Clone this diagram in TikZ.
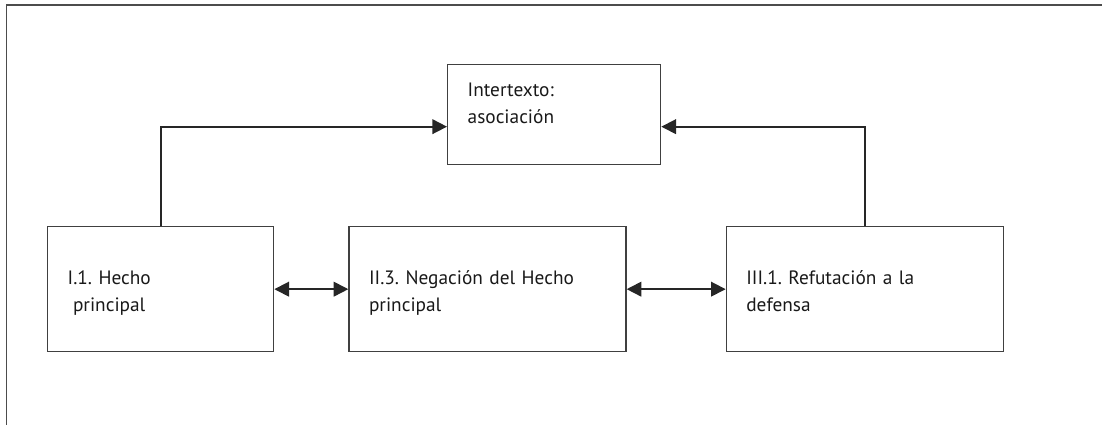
\documentclass[tikz,border=0pt]{standalone}
\usepackage{fontspec}
\setmainfont{PT Sans}
\frenchspacing
\usetikzlibrary{positioning}
\usetikzlibrary{arrows.meta}
\tikzset{%
	% Specifications for style of boxes and links:
	base/.style = {rectangle, draw=black!75, line width=1pt, align=left,
		inner xsep=15pt, inner ysep=0pt, text height=12pt,
		font=\fontsize{14.5pt}{20pt}\selectfont, text=black!90},
	lowerBox/.style = {base, minimum height=93.75pt, text depth=18.75pt},
	topBox/.style = {base, minimum height=75pt, text depth=39pt},
	link/.style = {draw=black!85, line width=1.3pt, -{Triangle[length=11pt, width=11pt]}},
	bothLink/.style = {link, {Triangle[length=11pt, width=11pt]}-{Triangle[length=11pt, width=11pt]}},
	frame/.style = {draw=black!70, line width=1.4pt}
}
\begin{document}
\begin{tikzpicture}
	\useasboundingbox (0,0) rectangle (826.5pt,-318.75pt);
	\coordinate (frameNE) at (826.5pt,-3.6pt);
	\coordinate (frameNW) at (4.9pt,-3.6pt);
	\coordinate (frameSW) at (4.9pt,-318.75pt);
	\draw[frame] (frameNE) -- (frameNW) -- (frameSW);
	\node (hecho) [lowerBox, anchor=north west, minimum width=169.5pt, text width=139.5pt] at (35.25pt,-169.5pt) {I.1. Hecho\\\hspace{4pt}principal};
	\node (negacion) [lowerBox, right=55.5pt of hecho, minimum width=207.75pt, text width=177.75pt] {II.3. Negación del Hecho\\principal};
	\node (refutacion) [lowerBox, right=74.25pt of negacion, minimum width=207.75pt, text width=177.75pt] {III.1. Refutación a la\\defensa};
	\node (intertexto) [topBox, anchor=north west, minimum width=159.75pt, text width=129.75pt] at (335.25pt,-48pt) {Intertexto:\\asociación};
	\draw[bothLink] (hecho.east) -- (negacion.west);
	\draw[bothLink] (negacion.east) -- (refutacion.west);
	\draw[link] (hecho.north) |- ([yshift=-9pt]intertexto.west);
	\draw[link] (refutacion.north) |- ([yshift=-9pt]intertexto.east);
\end{tikzpicture}
\end{document}
